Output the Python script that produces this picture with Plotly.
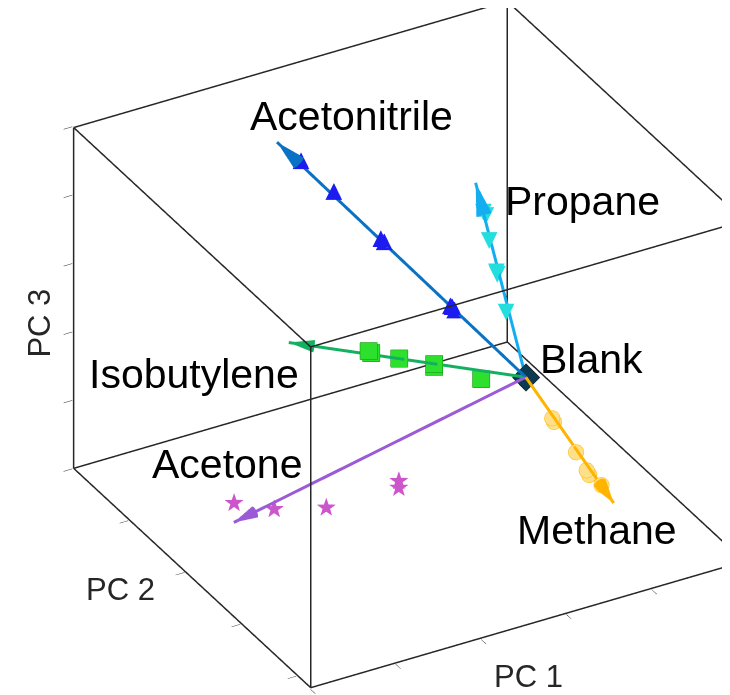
import plotly.graph_objects as go

# ---------------- data ----------------
pc1_range = [-4.0, 1.1]
pc2_range = [-2.25, 2.0]
pc3_range = [-0.7, 1.8]

blank = [0.0, 0.0, 0.0]

gas_names = ["Acetonitrile", "Propane", "Isobutylene", "Methane", "Acetone"]

# arrow tips (fitted response direction of each gas)
acetonitrile_tip = [-1.93, 1.50, 1.50]
propane_tip = [0.20, 1.20, 0.93]
isobutylene_tip = [-2.12, 1.00, 0.26]
methane_tip = [-0.02, -1.60, -0.31]
acetone_tip = [-3.42, 0.00, -0.44]

acetonitrile_pc1 = [-1.75, -1.49, -1.13, -1.09, -0.57, -0.59, -0.54]
acetonitrile_pc2 = [1.35, 1.16, 0.87, 0.87, 0.45, 0.45, 0.45]
acetonitrile_pc3 = [1.39, 1.19, 0.89, 0.86, 0.45, 0.46, 0.42]

propane_pc1 = [0.17, 0.20, 0.12, 0.08, 0.09, 0.03]
propane_pc2 = [1.02, 1.02, 0.84, 0.65, 0.65, 0.40]
propane_pc3 = [0.79, 0.76, 0.66, 0.51, 0.49, 0.32]

isobutylene_pc1 = [-1.41, -1.38, -1.13, -0.82, -0.82, -0.40]
isobutylene_pc2 = [0.66, 0.66, 0.54, 0.39, 0.39, 0.19]
isobutylene_pc3 = [0.20, 0.18, 0.14, 0.08, 0.10, -0.01]

methane_pc1 = [0.00, 0.02, -0.01, -0.01, 0.02, -0.02]
methane_pc2 = [-0.47, -0.47, -0.91, -1.10, -1.10, -1.38]
methane_pc3 = [-0.12, -0.15, -0.20, -0.26, -0.30, -0.26]

acetone_pc1 = [-3.42, -2.95, -2.34, -1.49, -1.49]
acetone_pc2 = [0.00, 0.00, 0.00, 0.00, 0.00]
acetone_pc3 = [-0.29, -0.42, -0.52, -0.48, -0.53]

axis_titles = ["PC 1", "PC 2", "PC 3"]

# ---------------- styles ----------------
AX = "#262626"
FONT = "Liberation Sans, Arial, sans-serif"
line_colors = {"Acetonitrile": "#0a72c4", "Propane": "#12aef0",
               "Isobutylene": "#12b060", "Methane": "#ffb400",
               "Acetone": "#9b5bd6"}
label_shift = {"Acetonitrile": (74, 26), "Propane": (107, -18),
               "Isobutylene": (-95, -31), "Methane": (-17, -27),
               "Acetone": (-7, 58)}
tips = {"Acetonitrile": acetonitrile_tip, "Propane": propane_tip,
        "Isobutylene": isobutylene_tip, "Methane": methane_tip,
        "Acetone": acetone_tip}

fig = go.Figure()

# box edges built from the axis ranges (inset a hair so they are not clipped)
x0, x1 = pc1_range
y0, y1 = pc2_range
z0, z1 = pc3_range
ex, ey, ez = (x1 - x0) * 0.002, (y1 - y0) * 0.002, (z1 - z0) * 0.002
bx0, bx1, by0, by1, bz0, bz1 = x0 + ex, x1 - ex, y0 + ey, y1 - ey, z0 + ez, z1 - ez
corners = [(x, y, z) for x in (bx0, bx1) for y in (by0, by1) for z in (bz0, bz1)]
bx, by, bz = [], [], []
for i, a in enumerate(corners):
    for b in corners[i + 1:]:
        diff = sum(1 for k in range(3) if a[k] != b[k])
        if diff == 1:
            bx += [a[0], b[0], None]
            by += [a[1], b[1], None]
            bz += [a[2], b[2], None]
fig.add_trace(go.Scatter3d(x=bx, y=by, z=bz, mode="lines",
                           line=dict(color=AX, width=3), hoverinfo="skip",
                           showlegend=False))

# arrows: line from blank to tip + cone head
for name in gas_names:
    tip = tips[name]
    c = line_colors[name]
    fig.add_trace(go.Scatter3d(x=[blank[0], tip[0]], y=[blank[1], tip[1]],
                               z=[blank[2], tip[2]], mode="lines",
                               line=dict(color=c, width=6), showlegend=False,
                               hoverinfo="skip"))
    d = [tip[k] - blank[k] for k in range(3)]
    n = sum(v * v for v in d) ** 0.5
    fig.add_trace(go.Cone(x=[tip[0]], y=[tip[1]], z=[tip[2]],
                          u=[d[0] / n], v=[d[1] / n], w=[d[2] / n],
                          anchor="tip", sizemode="absolute", sizeref=0.25,
                          colorscale=[[0, c], [1, c]], showscale=False,
                          lighting=dict(ambient=1, diffuse=0, specular=0,
                                        roughness=1, fresnel=0),
                          hoverinfo="skip"))

# markers
fig.add_trace(go.Scatter3d(x=isobutylene_pc1, y=isobutylene_pc2, z=isobutylene_pc3,
                           mode="markers", showlegend=False,
                           marker=dict(symbol="square", size=9, color="#2de02d",
                                       line=dict(color="#108a10", width=1.5))))
fig.add_trace(go.Scatter3d(x=methane_pc1, y=methane_pc2, z=methane_pc3,
                           mode="markers", showlegend=False,
                           marker=dict(symbol="circle", size=9, color="#ffe08a",
                                       line=dict(color="#ffb400", width=2))))
fig.add_trace(go.Scatter3d(x=acetonitrile_pc1, y=acetonitrile_pc2, z=acetonitrile_pc3,
                           mode="text", text=["▲"] * len(acetonitrile_pc1),
                           textposition="middle center",
                           textfont=dict(family="DejaVu Sans", size=22, color="#1c1cf0"),
                           showlegend=False))
fig.add_trace(go.Scatter3d(x=propane_pc1, y=propane_pc2, z=propane_pc3,
                           mode="text", text=["▼"] * len(propane_pc1),
                           textposition="middle center",
                           textfont=dict(family="DejaVu Sans", size=22, color="#24dede"),
                           showlegend=False))
fig.add_trace(go.Scatter3d(x=acetone_pc1, y=acetone_pc2, z=acetone_pc3,
                           mode="text", text=["★"] * len(acetone_pc1),
                           textposition="middle center",
                           textfont=dict(family="DejaVu Sans", size=25, color="#cc55cc"),
                           showlegend=False))
fig.add_trace(go.Scatter3d(x=[blank[0]], y=[blank[1]], z=[blank[2]],
                           mode="markers", showlegend=False,
                           marker=dict(symbol="diamond", size=9, color="#0c3a50",
                                       line=dict(color="#000000", width=2))))

# annotations: gas labels and axis titles
anns = []
for name in gas_names:
    tip = tips[name]
    sx, sy = label_shift[name]
    anns.append(dict(x=tip[0], y=tip[1], z=tip[2], text=name, showarrow=False,
                     xshift=sx, yshift=sy,
                     font=dict(family=FONT, size=41, color="black")))
anns.append(dict(x=blank[0], y=blank[1], z=blank[2], text="Blank", showarrow=False,
                 xshift=66, yshift=18,
                 font=dict(family=FONT, size=41, color="black")))
tfont = dict(family=FONT, size=31, color=AX)
anns.append(dict(x=(x0 + x1) / 2, y=by0, z=bz0, text=axis_titles[0], showarrow=False,
                 xshift=1, yshift=-52, font=tfont))
anns.append(dict(x=bx0, y=(y0 + y1) / 2, z=bz0, text=axis_titles[1], showarrow=False,
                 xshift=-72, yshift=-11, font=tfont))
anns.append(dict(x=bx0, y=by1, z=(z0 + z1) / 2, text=axis_titles[2], showarrow=False,
                 xshift=-34, yshift=-25, textangle=-90, font=tfont))

axis_style = dict(showbackground=False, showgrid=False, zeroline=False,
                  showline=False, showticklabels=False, ticks="outside",
                  ticklen=10, tickcolor=AX, title=dict(text=""), showspikes=False)

S = 1.152
cam_center = dict(x=-0.0984, y=0.0363, z=-0.0271)
fig.update_layout(
    width=730, height=695,
    margin=dict(l=0, r=0, t=0, b=0),
    paper_bgcolor="white",
    showlegend=False,
    scene=dict(
        domain=dict(x=[0.0, 1.0], y=[0.0, 1.0]),
        xaxis=dict(range=pc1_range, dtick=1, tick0=-4, **axis_style),
        yaxis=dict(range=pc2_range, dtick=1, tick0=-2, **axis_style),
        zaxis=dict(range=pc3_range, dtick=0.5, tick0=-0.7, **axis_style),
        aspectmode="manual",
        aspectratio=dict(x=1.247 * S, y=1.215 * S, z=1.0 * S),
        camera=dict(eye=dict(x=-0.836 + cam_center["x"], y=-1.490 + cam_center["y"],
                             z=1.038 + cam_center["z"]),
                    up=dict(x=0, y=0, z=1), center=cam_center,
                    projection=dict(type="orthographic")),
        annotations=anns,
    ),
)

fig.write_html("out.html")
